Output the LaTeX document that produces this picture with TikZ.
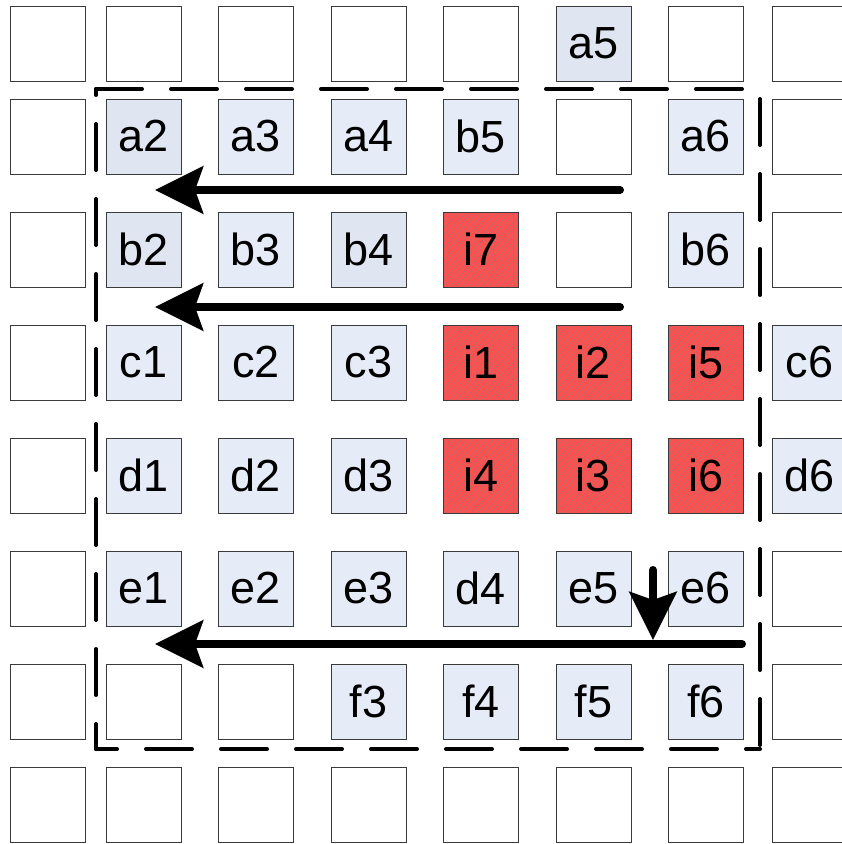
\documentclass[tikz,border=0pt]{standalone}
\usepackage{fontspec}
\setmainfont{Liberation Sans}
\usetikzlibrary{arrows.meta,patterns.meta}
\definecolor{celllight}{HTML}{E6ECF7}
\definecolor{celldark}{HTML}{E0E6F1}
\definecolor{cellred}{HTML}{FF5050}
\definecolor{hatch}{HTML}{8A7C7C}
\definecolor{cellborder}{HTML}{3A3A3A}
\tikzset{
  cell/.style={rectangle, draw=cellborder, line width=1pt, minimum size=75pt, inner sep=0pt,
    font=\fontsize{45}{50}\selectfont, text=black},
  lightcell/.style={cell, fill=celllight},
  darkcell/.style={cell, fill=celldark},
  redcell/.style={cell, preaction={fill=cellred},
    pattern={Lines[angle=45,distance=4.5pt,line width=0.35pt]}, pattern color=hatch},
  boxdash/.style={line width=4pt, line cap=round, dash pattern=on 46pt off 29pt},
  flow/.style={line width=8pt, line cap=round, -{Stealth[length=48pt,width=47pt,inset=8pt]}}
}
\def\colx{{48,143.5,256,368.5,481,593.5,706,809.5}}
\def\rowy{{43.5,136.5,249.5,362.5,475.5,588.5,701.5,804.5}}
\begin{document}
\begin{tikzpicture}[x=1pt,y=-1pt]
\useasboundingbox (0,0) rectangle (842,844);
% empty cells
\foreach \r/\c in {1/1,1/2,1/3,1/4,1/5,1/7,1/8,
                   2/1,2/6,2/8, 3/1,3/6,3/8, 4/1, 5/1, 6/1,6/8,
                   7/1,7/2,7/3,7/8,
                   8/1,8/2,8/3,8/4,8/5,8/6,8/7,8/8}{
  \pgfmathsetmacro\px{\colx[\c-1]}
  \pgfmathsetmacro\py{\rowy[\r-1]}
  \node[cell] (cell-\r-\c) at (\px,\py) {};
}
% light cells
\foreach \r/\c/\t in {2/3/a3,2/4/a4,2/5/b5,2/7/a6,3/3/b3,3/7/b6,
                      4/2/c1,4/3/c2,4/4/c3,4/8/c6,
                      5/2/d1,5/3/d2,5/4/d3,5/8/d6,
                      6/2/e1,6/3/e2,6/4/e3,6/5/d4,6/6/e5,6/7/e6,
                      7/4/f3,7/5/f4,7/6/f5,7/7/f6}{
  \pgfmathsetmacro\px{\colx[\c-1]}
  \pgfmathsetmacro\py{\rowy[\r-1]}
  \node[lightcell] (cell-\r-\c) at (\px,\py) {\t};
}
% darker cells
\foreach \r/\c/\t in {1/6/a5,2/2/a2,3/2/b2,3/4/b4}{
  \pgfmathsetmacro\px{\colx[\c-1]}
  \pgfmathsetmacro\py{\rowy[\r-1]}
  \node[darkcell] (cell-\r-\c) at (\px,\py) {\t};
}
% red hatched cells
\foreach \r/\c/\t in {3/5/i7,4/5/i1,4/6/i2,4/7/i5,5/5/i4,5/6/i3,5/7/i6}{
  \pgfmathsetmacro\px{\colx[\c-1]}
  \pgfmathsetmacro\py{\rowy[\r-1]}
  \node[redcell] (cell-\r-\c) at (\px,\py) {\t};
}
% dashed frame
\coordinate (tl) at (96,89);
\coordinate (tr) at (760,89);
\coordinate (br) at (760,749);
\coordinate (bl) at (96,749);
\draw[boxdash, dash phase=0pt] (tl) -- (tr);
\draw[boxdash, dash phase=65pt] (tr) -- (br);
\draw[boxdash, dash phase=32pt] (br) -- (bl);
\draw[boxdash, dash phase=21pt] (bl) -- (tl);
% arrows
\coordinate (a1s) at (620,190);
\coordinate (a1e) at (155,190);
\coordinate (a2s) at (620,307);
\coordinate (a2e) at (155,307);
\coordinate (a3s) at (742,644);
\coordinate (a3e) at (155,644);
\coordinate (a4s) at (653,570);
\coordinate (a4e) at (653,640);
\draw[flow] (a1s) -- (a1e);
\draw[flow] (a2s) -- (a2e);
\draw[flow] (a3s) -- (a3e);
\draw[flow] (a4s) -- (a4e);
\end{tikzpicture}
\end{document}
